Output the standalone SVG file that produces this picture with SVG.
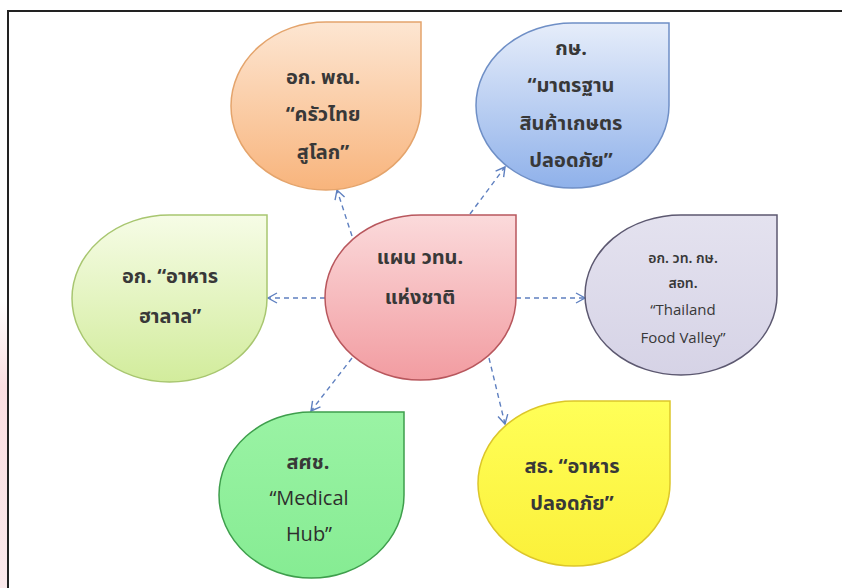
<svg xmlns="http://www.w3.org/2000/svg" width="842" height="588" viewBox="0 0 842 588">
<defs>
<style>
.t{font-family:"Noto Sans Thai","Noto Sans","DejaVu Sans",sans-serif;font-weight:bold;font-size:20px;fill:#383838;text-anchor:middle}
.s{font-size:14px;font-weight:600}
.e{font-family:"Open Sans","Liberation Sans",sans-serif;font-weight:normal;font-size:15px}
.m{font-size:20px;fill:#2e2e2e}
.c{fill:none;stroke:#5f80c0;stroke-width:1.4;stroke-dasharray:5 4;marker-end:url(#ah)}
</style>
<marker id="ah" viewBox="0 0 12 12" refX="11" refY="6" markerWidth="12" markerHeight="12" markerUnits="userSpaceOnUse" orient="auto">
<path d="M2,1 L11,6 L2,11" fill="none" stroke="#5f80c0" stroke-width="1.4" stroke-dasharray="none"/>
</marker>
<linearGradient id="gO" x1="0" y1="0" x2="0" y2="1"><stop offset="0" stop-color="#fde6d2"/><stop offset="1" stop-color="#f8b47c"/></linearGradient>
<linearGradient id="gB" x1="0" y1="0" x2="0" y2="1"><stop offset="0" stop-color="#e6edfa"/><stop offset="1" stop-color="#8fb1ea"/></linearGradient>
<linearGradient id="gP" x1="0" y1="0" x2="0" y2="1"><stop offset="0" stop-color="#fbdadb"/><stop offset="1" stop-color="#f29ca1"/></linearGradient>
<linearGradient id="gL" x1="0" y1="0" x2="0" y2="1"><stop offset="0" stop-color="#f6fce6"/><stop offset="1" stop-color="#d2ec9c"/></linearGradient>
<linearGradient id="gV" x1="0" y1="0" x2="0" y2="1"><stop offset="0" stop-color="#e4e2ef"/><stop offset="1" stop-color="#d6d3e6"/></linearGradient>
<linearGradient id="gG" x1="0" y1="0" x2="0" y2="1"><stop offset="0" stop-color="#9af3a4"/><stop offset="1" stop-color="#86ec93"/></linearGradient>
<linearGradient id="gY" x1="0" y1="0" x2="0" y2="1"><stop offset="0" stop-color="#ffff58"/><stop offset="1" stop-color="#fbf03a"/></linearGradient>
<linearGradient id="gEdge" x1="0" y1="0" x2="0" y2="1"><stop offset="0" stop-color="#ffffff"/><stop offset="0.3" stop-color="#f8d0d4"/><stop offset="1" stop-color="#f9e0e3"/></linearGradient>
</defs>
<rect width="842" height="588" fill="#ffffff"/>
<rect x="0" y="300" width="7" height="288" fill="url(#gEdge)" opacity="0.7"/>
<path d="M8,588 L8,11 L842,11" fill="none" stroke="#222" stroke-width="2"/>

<g id="connectors">
<line class="c" x1="352" y1="236" x2="337" y2="190"/>
<line class="c" x1="470" y1="214" x2="505" y2="167"/>
<line class="c" x1="325" y1="298" x2="268" y2="298"/>
<line class="c" x1="516" y1="298" x2="585" y2="298"/>
<line class="c" x1="352" y1="358" x2="311" y2="411"/>
<line class="c" x1="489" y1="358" x2="505" y2="424"/>
</g>

<g id="n-orange">
<path d="M231,106 A95,84 0 0 1 326,22 L421,22 L421,106 A95,84 0 0 1 326,190 A95,84 0 0 1 231,106 Z" fill="url(#gO)" stroke="#e4a46c" stroke-width="1.5"/>
<text class="t" x="323" y="84">อก. พณ.</text>
<text class="t" x="323" y="121">“ครัวไทย</text>
<text class="t" x="323" y="159">สูโลก”</text>
</g>

<g id="n-blue">
<path d="M476,105.5 A96.5,82.5 0 0 1 572.5,23 L669,23 L669,105.5 A96.5,82.5 0 0 1 572.5,188 A96.5,82.5 0 0 1 476,105.5 Z" fill="url(#gB)" stroke="#6f8fc6" stroke-width="1.5"/>
<text class="t" x="571" y="55">กษ.</text>
<text class="t" x="571" y="92">“มาตรฐาน</text>
<text class="t" x="571" y="130">สินค้าเกษตร</text>
<text class="t" x="571" y="167">ปลอดภัย”</text>
</g>

<g id="n-center">
<path d="M325,297.5 A95.5,82.5 0 0 1 420.5,215 L516,215 L516,297.5 A95.5,82.5 0 0 1 420.5,380 A95.5,82.5 0 0 1 325,297.5 Z" fill="url(#gP)" stroke="#b8575d" stroke-width="1.5"/>
<text class="t" x="420" y="264">แผน วทน.</text>
<text class="t" x="420" y="304">แห่งชาติ</text>
</g>

<g id="n-halal">
<path d="M72,298.5 A97.5,83.5 0 0 1 169.5,215 L267,215 L267,298.5 A97.5,83.5 0 0 1 169.5,382 A97.5,83.5 0 0 1 72,298.5 Z" fill="url(#gL)" stroke="#a8c670" stroke-width="1.5"/>
<text class="t" x="170" y="283">อก. “อาหาร</text>
<text class="t" x="170" y="323">ฮาลาล”</text>
</g>

<g id="n-valley">
<path d="M585,295 A96,80 0 0 1 681,215 L777,215 L777,295 A96,80 0 0 1 681,375 A96,80 0 0 1 585,295 Z" fill="url(#gV)" stroke="#5c5870" stroke-width="1.5"/>
<text class="t s" x="683" y="263">อก. วท. กษ.</text>
<text class="t s" x="683" y="288">สอท.</text>
<text class="t e" x="683" y="315">“Thailand</text>
<text class="t e" x="683" y="343">Food Valley”</text>
</g>

<g id="n-medical">
<path d="M219,495 A92.5,83 0 0 1 311.5,412 L404,412 L404,495 A92.5,83 0 0 1 311.5,578 A92.5,83 0 0 1 219,495 Z" fill="url(#gG)" stroke="#3e9e4c" stroke-width="1.5"/>
<text class="t" x="308" y="469">สศช.</text>
<text class="t e m" x="309" y="505">“Medical</text>
<text class="t e m" x="309" y="541">Hub”</text>
</g>

<g id="n-food">
<path d="M478,483.5 A96,82.5 0 0 1 574,401 L670,401 L670,483.5 A96,82.5 0 0 1 574,566 A96,82.5 0 0 1 478,483.5 Z" fill="url(#gY)" stroke="#dcc62a" stroke-width="1.5"/>
<text class="t" x="572" y="473">สธ. “อาหาร</text>
<text class="t" x="572" y="510">ปลอดภัย”</text>
</g>
</svg>
